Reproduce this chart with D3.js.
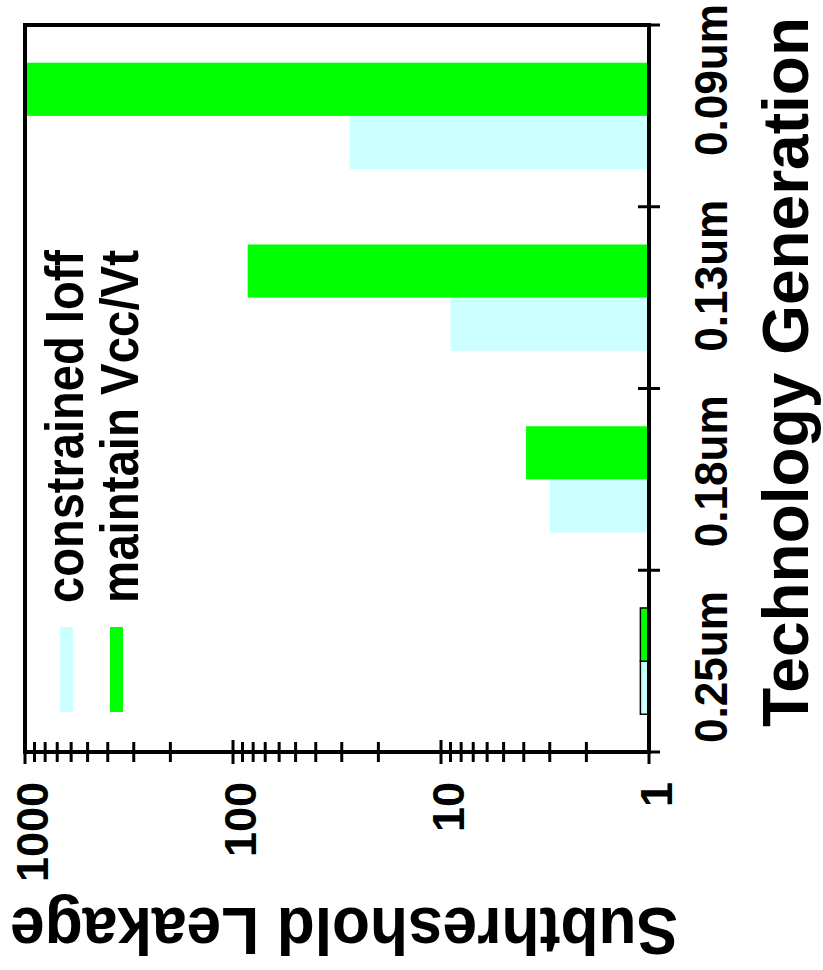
<!DOCTYPE html>
<html lang="en">
    <head>
        <meta charset="utf-8">
        <script src="https://cdn.jsdelivr.net/npm/d3@7"></script>
        <style>
            body { margin: 0; background: #fff; }
            text { font-family: "Liberation Sans", Arial, sans-serif; font-weight: bold; fill: #000; }
        </style>
    </head>
    <body>
        <svg id="mysvg" width="823" height="970"></svg>

        <script>
        // data
        var categories = ["0.25um", "0.18um", "0.13um", "0.09um"]
        var seriesNames = ["constrained Ioff", "maintain Vcc/Vt"]
        var constrainedIoff = [1.1, 3.0, 9.0, 27.5]
        var maintainVccVt = [1.1, 3.9, 85, 1000]
        var yTickLabels = [1, 10, 100, 1000]
        var colors = ["#ccffff", "#00ff00"]

        var svg = d3.select("#mysvg")

        // the chart is drawn upright in a 970 x 823 frame, then turned a quarter left
        var g = svg.append("g")
            .attr("transform", "translate(0,970) rotate(-90)")

        var x = d3.scaleBand()
            .domain(categories)
            .range([218, 945])

        var x1 = d3.scaleBand()
            .domain(seriesNames)
            .range([0, x.bandwidth()])
            .paddingOuter(0.71)

        var labelX = d3.scalePoint()
            .domain(categories)
            .range([303, 890])

        var y = d3.scaleLog()
            .domain([1, 1000])
            .range([649, 25])

        var rows = []
        categories.forEach(function(c, i) {
            rows.push({cat: c, s: seriesNames[0], v: constrainedIoff[i]})
            rows.push({cat: c, s: seriesNames[1], v: maintainVccVt[i]})
        })

        // bars
        g.selectAll("rect.bar")
            .data(rows)
            .enter().append("rect")
            .attr("class", "bar")
            .attr("x", function(d) { return x(d.cat) + x1(d.s) })
            .attr("width", x1.bandwidth())
            .attr("y", function(d) { return y(d.v) })
            .attr("height", function(d) { return y(1) - y(d.v) })
            .attr("fill", function(d) { return colors[seriesNames.indexOf(d.s)] })
            .attr("stroke", function(d) { return d.v < 2 ? "#000" : "none" })
            .attr("stroke-width", 1.5)

        // frame
        var x0 = x.range()[0], xEnd = x.range()[1]
        g.append("rect")
            .attr("x", x0)
            .attr("y", y(1000))
            .attr("width", xEnd - x0)
            .attr("height", y(1) - y(1000))
            .attr("fill", "none")
            .attr("stroke", "#000")
            .attr("stroke-width", 4)

        // log ticks on value axis
        g.selectAll("line.ytick")
            .data(y.ticks())
            .enter().append("line")
            .attr("class", "ytick")
            .attr("x1", function(d) { return x0 - (yTickLabels.indexOf(d) >= 0 ? 12 : 10) })
            .attr("x2", function(d) { return x0 + (yTickLabels.indexOf(d) >= 0 ? 12 : 10) })
            .attr("y1", function(d) { return y(d) })
            .attr("y2", function(d) { return y(d) })
            .attr("stroke", "#000")
            .attr("stroke-width", 3)

        g.selectAll("text.ylab")
            .data(yTickLabels)
            .enter().append("text")
            .attr("class", "ylab")
            .attr("x", x0 - 30)
            .attr("y", function(d) { return y(d) + 7 })
            .attr("dy", "0.35em")
            .attr("text-anchor", "end")
            .style("font-size", "45px")
            .text(function(d) { return d })

        // category ticks
        var bounds = categories.map(function(c) { return x(c) }).concat([xEnd])
        g.selectAll("line.xtick")
            .data(bounds)
            .enter().append("line")
            .attr("class", "xtick")
            .attr("x1", function(d) { return d })
            .attr("x2", function(d) { return d })
            .attr("y1", y(1) - 11)
            .attr("y2", y(1) + 11)
            .attr("stroke", "#000")
            .attr("stroke-width", 3)

        g.selectAll("text.xlab")
            .data(categories)
            .enter().append("text")
            .attr("class", "xlab")
            .attr("x", function(d) { return labelX(d) })
            .attr("y", 727)
            .attr("text-anchor", "middle")
            .attr("textLength", 152)
            .attr("lengthAdjust", "spacingAndGlyphs")
            .style("font-size", "46px")
            .text(function(d) { return d })

        // axis titles
        g.append("text")
            .attr("x", 598)
            .attr("y", 808)
            .attr("text-anchor", "middle")
            .style("font-size", "64px")
            .text("Technology Generation")

        g.append("text")
            .attr("transform", "translate(62,344) rotate(-90)")
            .attr("text-anchor", "middle")
            .attr("textLength", 668)
            .attr("lengthAdjust", "spacingAndGlyphs")
            .style("font-size", "66px")
            .text("Subthreshold Leakage")

        // legend
        var legend = g.selectAll("g.legend")
            .data(seriesNames)
            .enter().append("g")
            .attr("class", "legend")

        legend.append("rect")
            .attr("x", 258)
            .attr("y", function(d, i) { return 60 + i * 50 })
            .attr("width", 85)
            .attr("height", 13)
            .attr("fill", function(d, i) { return colors[i] })

        legend.append("text")
            .attr("x", 367)
            .attr("y", function(d, i) { return 83 + i * 55 })
            .attr("textLength", 353)
            .attr("lengthAdjust", "spacingAndGlyphs")
            .style("font-size", "53px")
            .text(function(d) { return d })
        </script>
    </body>
</html>
